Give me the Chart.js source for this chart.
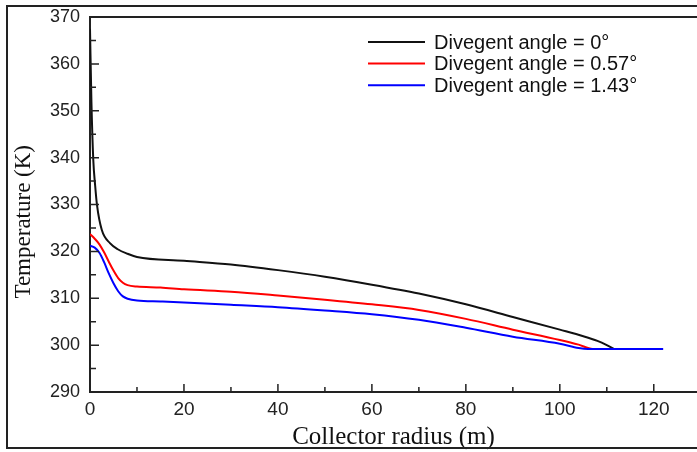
<!DOCTYPE html>
<html>
<head>
<meta charset="utf-8">
<script src="https://cdn.jsdelivr.net/npm/chart.js@4.4.1/dist/chart.umd.min.js"></script>
<style>
  html, body { margin:0; padding:0; background:#fff; overflow:hidden; }
  #wrap { position:relative; width:697px; height:452px; }
  #frame { position:absolute; left:6px; top:5px; width:730px; height:444px; border:2px solid #222; box-sizing:border-box; pointer-events:none; }
  canvas { position:absolute; left:0; top:0; }
</style>
</head>
<body>
<div id="wrap">
  <canvas id="chart" width="697" height="452"></canvas>
  <div id="frame"></div>
</div>
<script>
const seriesLabels = ['Divegent angle = 0°', 'Divegent angle = 0.57°', 'Divegent angle = 1.43°'];
const seriesColors = ['#111111', '#ff0000', '#0000ff'];

// collector radius (m) / temperature (K)
const radius0 = [0, 0.3, 0.7, 1.1, 1.5, 2.5, 4.3, 6, 8, 10, 20, 30, 40, 50, 60, 70, 80, 90, 100, 105, 108, 110, 111.5];
const temp0   = [367.5, 352, 339.5, 334, 329.8, 324.6, 321.7, 320.4, 319.5, 318.8, 318.0, 317.2, 316.0, 314.6, 312.9, 311.0, 308.7, 306.0, 303.3, 301.9, 300.9, 300.0, 299.2];

const radius1 = [0, 1, 2, 3, 4, 5, 6, 7, 8, 10, 15, 20, 30, 40, 50, 60, 70, 80, 90, 100, 104, 107, 110];
const temp1   = [323.7, 322.7, 321.5, 319.8, 317.8, 315.9, 314.3, 313.3, 312.8, 312.5, 312.3, 311.9, 311.4, 310.6, 309.7, 308.7, 307.5, 305.6, 303.3, 301.1, 300.1, 299.2, 299.2];

const radius2 = [0, 1, 2, 3, 4, 5, 6, 7, 8, 10, 15, 20, 30, 40, 50, 60, 70, 80, 90, 100, 104, 106, 110, 122];
const temp2   = [321.2, 320.8, 319.7, 317.7, 315.3, 313.2, 311.5, 310.4, 309.9, 309.5, 309.3, 309.1, 308.6, 308.1, 307.4, 306.6, 305.4, 303.7, 301.8, 300.3, 299.4, 299.2, 299.2, 299.2];

const xTicks = [0, 20, 40, 60, 80, 100, 120];
const yTicks = [290, 300, 310, 320, 330, 340, 350, 360, 370];

const allRadius = [radius0, radius1, radius2];
const allTemp = [temp0, temp1, temp2];

const axisFont = "'Liberation Sans', Arial, sans-serif";
const titleFont = "'Liberation Serif', 'Times New Roman', serif";

const datasets = seriesLabels.map((lab, i) => ({
  label: lab,
  data: allRadius[i].map((r, k) => ({x: r, y: allTemp[i][k]})),
  borderColor: seriesColors[i],
  backgroundColor: seriesColors[i],
  borderWidth: 2,
  pointRadius: 0,
  cubicInterpolationMode: 'monotone',
  order: 2 - i,
}));

const decor = {
  id: 'decor',
  afterDraw(chart) {
    const {ctx, chartArea: ca, scales: {x, y}} = chart;
    ctx.save();
    ctx.strokeStyle = '#222';
    ctx.lineWidth = 2;
    ctx.beginPath();
    ctx.moveTo(ca.left - 1, ca.top);
    ctx.lineTo(ca.right, ca.top);
    ctx.stroke();

    // inward ticks, major + minor
    ctx.lineWidth = 1.5;
    ctx.beginPath();
    for (let v = 0; v <= 120; v += 10) {
      const px = x.getPixelForValue(v);
      const len = v % 20 === 0 ? 8 : 5;
      ctx.moveTo(px, ca.bottom);
      ctx.lineTo(px, ca.bottom - len);
    }
    for (let v = 290; v <= 370; v += 5) {
      const py = y.getPixelForValue(v);
      const len = v % 10 === 0 ? 9 : 6;
      ctx.moveTo(ca.left, py);
      ctx.lineTo(ca.left + len, py);
    }
    ctx.stroke();

    // legend
    ctx.font = "20px " + axisFont;
    ctx.textBaseline = 'middle';
    ctx.textAlign = 'left';
    chart.data.datasets.forEach((ds, i) => {
      const ly = ca.top + 25 + i * 21.6;
      ctx.strokeStyle = ds.borderColor;
      ctx.lineWidth = 2;
      ctx.beginPath();
      ctx.moveTo(ca.left + 278, ly);
      ctx.lineTo(ca.left + 335, ly);
      ctx.stroke();
      ctx.fillStyle = '#111';
      ctx.fillText(ds.label, ca.left + 344, ly + 1);
    });
    ctx.restore();
  }
};

new Chart(document.getElementById('chart'), {
  type: 'line',
  data: {datasets},
  plugins: [decor],
  options: {
    responsive: false,
    animation: false,
    devicePixelRatio: 1,
    layout: {padding: {left: 0, right: 0, top: 17, bottom: 0}},
    plugins: {legend: {display: false}, tooltip: {enabled: false}},
    scales: {
      x: {
        type: 'linear',
        min: 0,
        max: 129.2,
        afterBuildTicks: s => { s.ticks = xTicks.map(v => ({value: v})); },
        afterFit: s => { s.height = 60; s.paddingRight = 0; },
        grid: {display: false, drawTicks: false},
        border: {display: true, color: '#222', width: 2},
        ticks: {color: '#222', padding: 6, font: {family: axisFont, size: 19}, maxRotation: 0},
        title: {display: true, text: 'Collector radius (m)', color: '#111', padding: {top: 0, bottom: 0}, font: {family: titleFont, size: 25}}
      },
      y: {
        type: 'linear',
        min: 290,
        max: 370,
        afterBuildTicks: s => { s.ticks = yTicks.map(v => ({value: v})); },
        afterFit: s => { s.width = 90; s.paddingTop = 0; s.paddingBottom = 0; },
        grid: {display: false, drawTicks: false},
        border: {display: true, color: '#222', width: 2},
        ticks: {color: '#222', padding: 10, font: {family: axisFont, size: 18}},
        title: {display: true, text: 'Temperature (K)      ', color: '#111', padding: {top: 10, bottom: 0}, font: {family: titleFont, size: 23}}
      }
    }
  }
});
</script>
</body>
</html>
